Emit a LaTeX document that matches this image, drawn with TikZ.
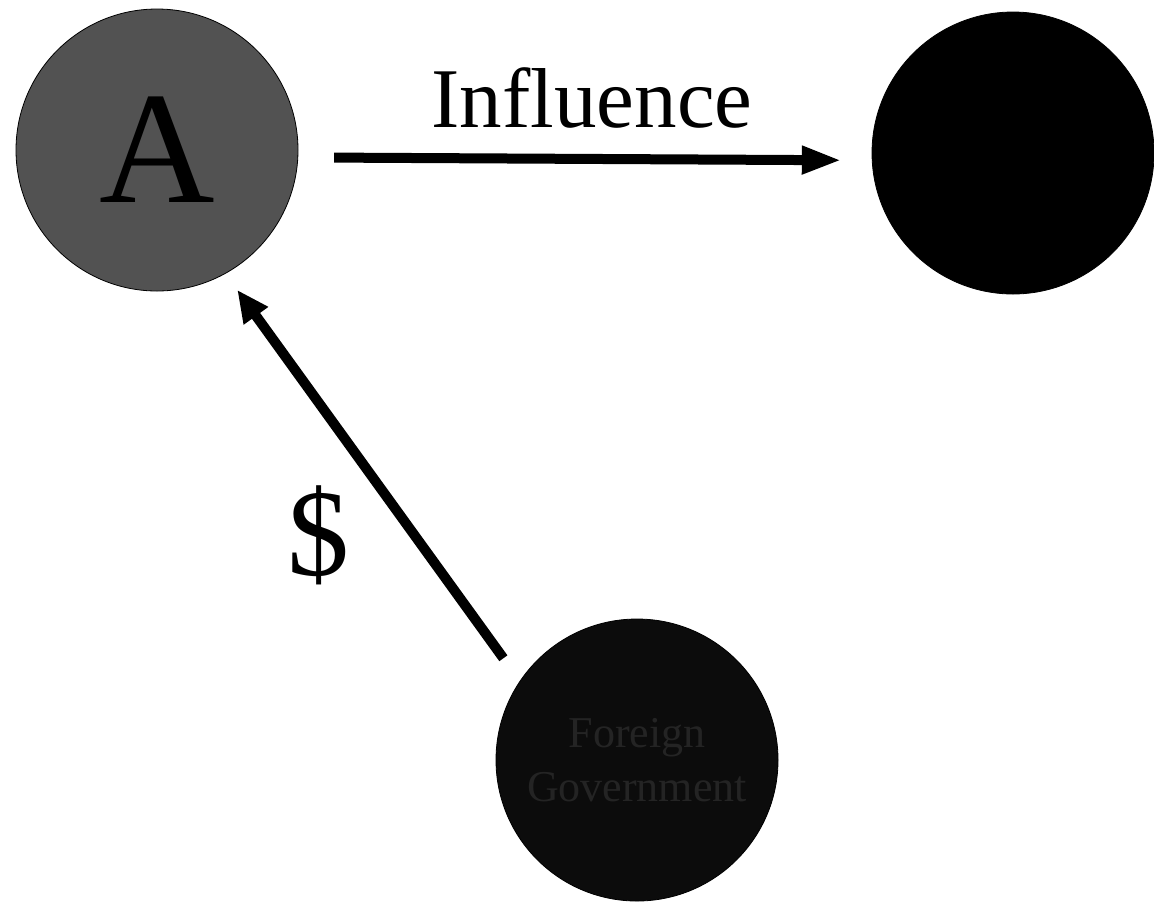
\documentclass[tikz,border=0pt]{standalone}
\usepackage{fontspec}
\setmainfont{Liberation Serif}
\usetikzlibrary{arrows.meta}
\definecolor{actorgray}{RGB}{82, 82, 82}
\definecolor{donorblack}{RGB}{12, 12, 12}
\definecolor{donortext}{RGB}{36, 36, 36}

\begin{document}
\begin{tikzpicture}[
	x=0.5pt, y=-0.5pt,
	% Styles for the actors and the flows
	actor/.style={circle, draw=black, thin, minimum size=141pt, inner sep=0pt},
	flow/.style={line width=5pt, draw=black},
	flowlabel/.style={font=\fontsize{42.5}{46}\selectfont, text=black}
	]
	\useasboundingbox (0,0) rectangle (1154,901);
	
	% ==========================================
	% 1. ACTORS
	% ==========================================
	\node[actor, fill=actorgray, font=\fontsize{80}{84}\selectfont] (actA) at (157,150) {A};
	\node[actor, fill=black] (actB) at (1013,153) {};
	\node[actor, fill=donorblack, text=donortext, align=center,
		font=\fontsize{22}{27}\selectfont] (donor) at (637,760) {Foreign\\Government};
	
	% ==========================================
	% 2. INFLUENCE (A to B)
	% ==========================================
	\draw[flow, -{Triangle[length=20pt, width=13pt]}, shorten <=18pt, shorten >=15pt]
		(actA.-3) -- (actB.183);
	\node[flowlabel] (infl) at (592,98) {Influence};
	
	% ==========================================
	% 3. MONEY (donor to A)
	% ==========================================
	\draw[flow, -{Triangle[length=16pt, width=14pt]}, shorten <=14pt, shorten >=10pt]
		(donor.146) -- (actA.299);
	\node[font=\fontsize{62}{66}\selectfont] (money) at (318,535) {\$};
\end{tikzpicture}
\end{document}
